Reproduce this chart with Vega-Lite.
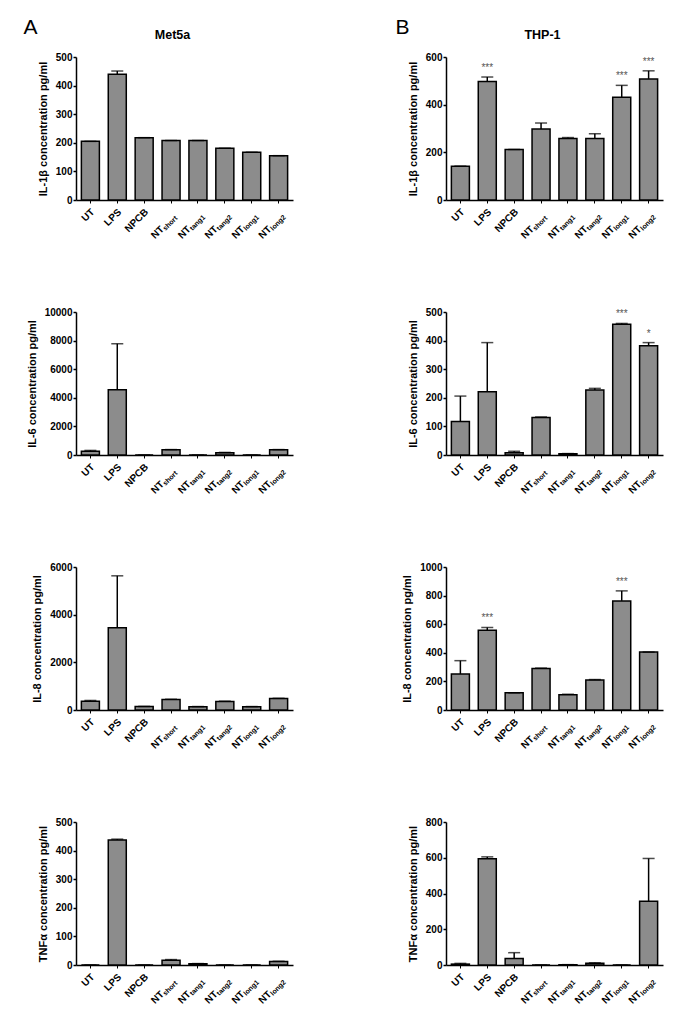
{
"$schema": "https://vega.github.io/schema/vega-lite/v6.json",
"padding": {"left": 23, "top": 17, "right": 5, "bottom": 5},
"background": "white",
"config": {
 "font": "Liberation Sans",
 "view": {"stroke": null},
 "axis": {"grid": false, "labelOverlap": false, "domainColor": "black", "domainWidth": 1.5, "tickColor": "black", "tickWidth": 1.5, "tickSize": 3, "labelFont": "Liberation Sans", "labelFontSize": 10, "labelFontWeight": "bold", "labelColor": "black", "labelPadding": 1, "titleFont": "Liberation Sans", "titleFontSize": 11, "titleFontWeight": "bold", "titleColor": "black", "titlePadding": 7},
 "text": {"font": "Liberation Sans", "color": "black"},
 "title": {"font": "Liberation Sans", "fontSize": 12.5, "fontWeight": "bold", "color": "black"}
},
"datasets": {"d": [
{"panel":"A1","cat":"UT","lab":"UT","sub":"","mean":205,"hi":205,"sig":""},
{"panel":"A1","cat":"LPS","lab":"LPS","sub":"","mean":440,"hi":451,"sig":""},
{"panel":"A1","cat":"NPCB","lab":"NPCB","sub":"","mean":218,"hi":218,"sig":""},
{"panel":"A1","cat":"NTs","lab":"NT","sub":"short","mean":208,"hi":208,"sig":""},
{"panel":"A1","cat":"NTt1","lab":"NT","sub":"tang1","mean":208,"hi":208,"sig":""},
{"panel":"A1","cat":"NTt2","lab":"NT","sub":"tang2","mean":181,"hi":181,"sig":""},
{"panel":"A1","cat":"NTl1","lab":"NT","sub":"long1","mean":167,"hi":167,"sig":""},
{"panel":"A1","cat":"NTl2","lab":"NT","sub":"long2","mean":155,"hi":155,"sig":""},
{"panel":"B1","cat":"UT","lab":"UT","sub":"","mean":142,"hi":142,"sig":""},
{"panel":"B1","cat":"LPS","lab":"LPS","sub":"","mean":497,"hi":516,"sig":"***"},
{"panel":"B1","cat":"NPCB","lab":"NPCB","sub":"","mean":212,"hi":212,"sig":""},
{"panel":"B1","cat":"NTs","lab":"NT","sub":"short","mean":298,"hi":323,"sig":""},
{"panel":"B1","cat":"NTt1","lab":"NT","sub":"tang1","mean":258,"hi":262,"sig":""},
{"panel":"B1","cat":"NTt2","lab":"NT","sub":"tang2","mean":258,"hi":278,"sig":""},
{"panel":"B1","cat":"NTl1","lab":"NT","sub":"long1","mean":431,"hi":481,"sig":"***"},
{"panel":"B1","cat":"NTl2","lab":"NT","sub":"long2","mean":508,"hi":542,"sig":"***"},
{"panel":"A2","cat":"UT","lab":"UT","sub":"","mean":260,"hi":320,"sig":""},
{"panel":"A2","cat":"LPS","lab":"LPS","sub":"","mean":4560,"hi":7780,"sig":""},
{"panel":"A2","cat":"NPCB","lab":"NPCB","sub":"","mean":0,"hi":0,"sig":""},
{"panel":"A2","cat":"NTs","lab":"NT","sub":"short","mean":370,"hi":380,"sig":""},
{"panel":"A2","cat":"NTt1","lab":"NT","sub":"tang1","mean":0,"hi":0,"sig":""},
{"panel":"A2","cat":"NTt2","lab":"NT","sub":"tang2","mean":160,"hi":180,"sig":""},
{"panel":"A2","cat":"NTl1","lab":"NT","sub":"long1","mean":0,"hi":0,"sig":""},
{"panel":"A2","cat":"NTl2","lab":"NT","sub":"long2","mean":360,"hi":380,"sig":""},
{"panel":"B2","cat":"UT","lab":"UT","sub":"","mean":117,"hi":206,"sig":""},
{"panel":"B2","cat":"LPS","lab":"LPS","sub":"","mean":221,"hi":393,"sig":""},
{"panel":"B2","cat":"NPCB","lab":"NPCB","sub":"","mean":8,"hi":13,"sig":""},
{"panel":"B2","cat":"NTs","lab":"NT","sub":"short","mean":131,"hi":133,"sig":""},
{"panel":"B2","cat":"NTt1","lab":"NT","sub":"tang1","mean":4,"hi":5,"sig":""},
{"panel":"B2","cat":"NTt2","lab":"NT","sub":"tang2","mean":227,"hi":233,"sig":""},
{"panel":"B2","cat":"NTl1","lab":"NT","sub":"long1","mean":457,"hi":460,"sig":"***"},
{"panel":"B2","cat":"NTl2","lab":"NT","sub":"long2","mean":382,"hi":393,"sig":"*"},
{"panel":"A3","cat":"UT","lab":"UT","sub":"","mean":370,"hi":400,"sig":""},
{"panel":"A3","cat":"LPS","lab":"LPS","sub":"","mean":3450,"hi":5630,"sig":""},
{"panel":"A3","cat":"NPCB","lab":"NPCB","sub":"","mean":150,"hi":150,"sig":""},
{"panel":"A3","cat":"NTs","lab":"NT","sub":"short","mean":440,"hi":450,"sig":""},
{"panel":"A3","cat":"NTt1","lab":"NT","sub":"tang1","mean":140,"hi":145,"sig":""},
{"panel":"A3","cat":"NTt2","lab":"NT","sub":"tang2","mean":360,"hi":370,"sig":""},
{"panel":"A3","cat":"NTl1","lab":"NT","sub":"long1","mean":140,"hi":145,"sig":""},
{"panel":"A3","cat":"NTl2","lab":"NT","sub":"long2","mean":480,"hi":490,"sig":""},
{"panel":"B3","cat":"UT","lab":"UT","sub":"","mean":252,"hi":345,"sig":""},
{"panel":"B3","cat":"LPS","lab":"LPS","sub":"","mean":557,"hi":577,"sig":"***"},
{"panel":"B3","cat":"NPCB","lab":"NPCB","sub":"","mean":120,"hi":120,"sig":""},
{"panel":"B3","cat":"NTs","lab":"NT","sub":"short","mean":290,"hi":293,"sig":""},
{"panel":"B3","cat":"NTt1","lab":"NT","sub":"tang1","mean":106,"hi":110,"sig":""},
{"panel":"B3","cat":"NTt2","lab":"NT","sub":"tang2","mean":210,"hi":213,"sig":""},
{"panel":"B3","cat":"NTl1","lab":"NT","sub":"long1","mean":763,"hi":833,"sig":"***"},
{"panel":"B3","cat":"NTl2","lab":"NT","sub":"long2","mean":405,"hi":405,"sig":""},
{"panel":"A4","cat":"UT","lab":"UT","sub":"","mean":0,"hi":0,"sig":""},
{"panel":"A4","cat":"LPS","lab":"LPS","sub":"","mean":437,"hi":440,"sig":""},
{"panel":"A4","cat":"NPCB","lab":"NPCB","sub":"","mean":0,"hi":0,"sig":""},
{"panel":"A4","cat":"NTs","lab":"NT","sub":"short","mean":17,"hi":19,"sig":""},
{"panel":"A4","cat":"NTt1","lab":"NT","sub":"tang1","mean":4,"hi":5,"sig":""},
{"panel":"A4","cat":"NTt2","lab":"NT","sub":"tang2","mean":0,"hi":0,"sig":""},
{"panel":"A4","cat":"NTl1","lab":"NT","sub":"long1","mean":0,"hi":0,"sig":""},
{"panel":"A4","cat":"NTl2","lab":"NT","sub":"long2","mean":12,"hi":13,"sig":""},
{"panel":"B4","cat":"UT","lab":"UT","sub":"","mean":5,"hi":9,"sig":""},
{"panel":"B4","cat":"LPS","lab":"LPS","sub":"","mean":595,"hi":605,"sig":""},
{"panel":"B4","cat":"NPCB","lab":"NPCB","sub":"","mean":37,"hi":69,"sig":""},
{"panel":"B4","cat":"NTs","lab":"NT","sub":"short","mean":0,"hi":0,"sig":""},
{"panel":"B4","cat":"NTt1","lab":"NT","sub":"tang1","mean":2,"hi":2,"sig":""},
{"panel":"B4","cat":"NTt2","lab":"NT","sub":"tang2","mean":10,"hi":12,"sig":""},
{"panel":"B4","cat":"NTl1","lab":"NT","sub":"long1","mean":0,"hi":0,"sig":""},
{"panel":"B4","cat":"NTl2","lab":"NT","sub":"long2","mean":356,"hi":596,"sig":""}
]},
"data": {"name": "d"},
"columns": 2,
"bounds": "flush",
"spacing": {"row": 112, "column": 153},
"concat": [
{
 "width": 217, "height": 143,
 "title": {"text": "Met5a", "dx": -12, "offset": 17, "dy": 41},
 "transform": [{"filter": "datum.panel == 'A1'"}],
 "encoding": {"x": {"field": "cat", "type": "nominal", "sort": null, "scale": {"domain": ["UT","LPS","NPCB","NTs","NTt1","NTt2","NTl1","NTl2"], "paddingInner": 0.33, "paddingOuter": 0.2}, "axis": {"labels": false, "title": null, "tickSize": 3, "tickWidth": 1}}},
 "layer": [
  {"mark": {"type": "bar", "fill": "#8c8c8c", "stroke": "black", "strokeWidth": 1.5}, "encoding": {"y": {"field": "mean", "type": "quantitative", "scale": {"domain": [0, 500], "nice": false}, "axis": {"values": [0,100,200,300,400,500], "format": "d", "title": "IL-1β concentration pg/ml"}}}},
  {"mark": {"type": "rule", "color": "black", "strokeWidth": 1.5}, "encoding": {"y": {"field": "mean", "type": "quantitative", "axis": {"values": [0,100,200,300,400,500], "format": "d", "title": "IL-1β concentration pg/ml"}}, "y2": {"field": "hi"}}},
  {"mark": {"type": "tick", "color": "black", "size": 12, "thickness": 1.5}, "encoding": {"y": {"field": "hi", "type": "quantitative", "axis": {"values": [0,100,200,300,400,500], "format": "d", "title": "IL-1β concentration pg/ml"}}}},
  {"transform": [{"filter": "datum.sub == ''"}], "mark": {"type": "text", "angle": 315, "align": "right", "baseline": "middle", "fontSize": 10, "fontWeight": "bold", "dx": -5.7, "dy": 9.2}, "encoding": {"y": {"datum": 0, "type": "quantitative", "axis": {"values": [0,100,200,300,400,500], "format": "d", "title": "IL-1β concentration pg/ml"}}, "text": {"field": "lab"}}},
  {"transform": [{"filter": "datum.sub != ''"}], "mark": {"type": "text", "angle": 315, "align": "right", "baseline": "middle", "fontSize": 10, "fontWeight": "bold", "dx": -25.8, "dy": 13.5}, "encoding": {"y": {"datum": 0, "type": "quantitative", "axis": {"values": [0,100,200,300,400,500], "format": "d", "title": "IL-1β concentration pg/ml"}}, "text": {"field": "lab"}}},
  {"transform": [{"filter": "datum.sub != ''"}], "mark": {"type": "text", "angle": 315, "align": "left", "baseline": "middle", "fontSize": 7, "fontWeight": "bold", "dx": -25.8, "dy": 16}, "encoding": {"y": {"datum": 0, "type": "quantitative", "axis": {"values": [0,100,200,300,400,500], "format": "d", "title": "IL-1β concentration pg/ml"}}, "text": {"field": "sub"}}},
  {"data": {"values": [{"panel": "A1", "t": "A"}]}, "mark": {"type": "text", "fontSize": 21, "align": "left", "baseline": "alphabetic", "dx": -67, "dy": -23}, "encoding": {"x": {"datum": "UT"}, "y": {"datum": 500, "type": "quantitative", "axis": {"values": [0,100,200,300,400,500], "format": "d", "title": "IL-1β concentration pg/ml"}}, "text": {"field": "t"}}}
 ]
},
{
 "width": 217, "height": 143,
 "title": {"text": "THP-1", "dx": -12, "offset": 17, "dy": 41},
 "transform": [{"filter": "datum.panel == 'B1'"}],
 "encoding": {"x": {"field": "cat", "type": "nominal", "sort": null, "scale": {"domain": ["UT","LPS","NPCB","NTs","NTt1","NTt2","NTl1","NTl2"], "paddingInner": 0.33, "paddingOuter": 0.2}, "axis": {"labels": false, "title": null, "tickSize": 3, "tickWidth": 1}}},
 "layer": [
  {"mark": {"type": "bar", "fill": "#8c8c8c", "stroke": "black", "strokeWidth": 1.5}, "encoding": {"y": {"field": "mean", "type": "quantitative", "scale": {"domain": [0, 600], "nice": false}, "axis": {"values": [0,200,400,600], "format": "d", "title": "IL-1β concentration pg/ml"}}}},
  {"mark": {"type": "rule", "color": "black", "strokeWidth": 1.5}, "encoding": {"y": {"field": "mean", "type": "quantitative", "axis": {"values": [0,200,400,600], "format": "d", "title": "IL-1β concentration pg/ml"}}, "y2": {"field": "hi"}}},
  {"mark": {"type": "tick", "color": "black", "size": 12, "thickness": 1.5}, "encoding": {"y": {"field": "hi", "type": "quantitative", "axis": {"values": [0,200,400,600], "format": "d", "title": "IL-1β concentration pg/ml"}}}},
  {"transform": [{"filter": "datum.sig != ''"}], "mark": {"type": "text", "fontSize": 10, "color": "#555555", "baseline": "alphabetic", "dy": -6}, "encoding": {"y": {"field": "hi", "type": "quantitative", "axis": {"values": [0,200,400,600], "format": "d", "title": "IL-1β concentration pg/ml"}}, "text": {"field": "sig"}}},
  {"transform": [{"filter": "datum.sub == ''"}], "mark": {"type": "text", "angle": 315, "align": "right", "baseline": "middle", "fontSize": 10, "fontWeight": "bold", "dx": -5.7, "dy": 9.2}, "encoding": {"y": {"datum": 0, "type": "quantitative", "axis": {"values": [0,200,400,600], "format": "d", "title": "IL-1β concentration pg/ml"}}, "text": {"field": "lab"}}},
  {"transform": [{"filter": "datum.sub != ''"}], "mark": {"type": "text", "angle": 315, "align": "right", "baseline": "middle", "fontSize": 10, "fontWeight": "bold", "dx": -25.8, "dy": 13.5}, "encoding": {"y": {"datum": 0, "type": "quantitative", "axis": {"values": [0,200,400,600], "format": "d", "title": "IL-1β concentration pg/ml"}}, "text": {"field": "lab"}}},
  {"transform": [{"filter": "datum.sub != ''"}], "mark": {"type": "text", "angle": 315, "align": "left", "baseline": "middle", "fontSize": 7, "fontWeight": "bold", "dx": -25.8, "dy": 16}, "encoding": {"y": {"datum": 0, "type": "quantitative", "axis": {"values": [0,200,400,600], "format": "d", "title": "IL-1β concentration pg/ml"}}, "text": {"field": "sub"}}},
  {"data": {"values": [{"panel": "B1", "t": "B"}]}, "mark": {"type": "text", "fontSize": 21, "align": "left", "baseline": "alphabetic", "dx": -65, "dy": -23}, "encoding": {"x": {"datum": "UT"}, "y": {"datum": 600, "type": "quantitative", "axis": {"values": [0,200,400,600], "format": "d", "title": "IL-1β concentration pg/ml"}}, "text": {"field": "t"}}}
 ]
},
{
 "width": 217, "height": 143,
 "transform": [{"filter": "datum.panel == 'A2'"}],
 "encoding": {"x": {"field": "cat", "type": "nominal", "sort": null, "scale": {"domain": ["UT","LPS","NPCB","NTs","NTt1","NTt2","NTl1","NTl2"], "paddingInner": 0.33, "paddingOuter": 0.2}, "axis": {"labels": false, "title": null, "tickSize": 3, "tickWidth": 1}}},
 "layer": [
  {"mark": {"type": "bar", "fill": "#8c8c8c", "stroke": "black", "strokeWidth": 1.5}, "encoding": {"y": {"field": "mean", "type": "quantitative", "scale": {"domain": [0, 10000], "nice": false}, "axis": {"values": [0,2000,4000,6000,8000,10000], "format": "d", "title": "IL-6 concentration pg/ml"}}}},
  {"mark": {"type": "rule", "color": "black", "strokeWidth": 1.5}, "encoding": {"y": {"field": "mean", "type": "quantitative", "axis": {"values": [0,2000,4000,6000,8000,10000], "format": "d", "title": "IL-6 concentration pg/ml"}}, "y2": {"field": "hi"}}},
  {"mark": {"type": "tick", "color": "black", "size": 12, "thickness": 1.5}, "encoding": {"y": {"field": "hi", "type": "quantitative", "axis": {"values": [0,2000,4000,6000,8000,10000], "format": "d", "title": "IL-6 concentration pg/ml"}}}},
  {"transform": [{"filter": "datum.sub == ''"}], "mark": {"type": "text", "angle": 315, "align": "right", "baseline": "middle", "fontSize": 10, "fontWeight": "bold", "dx": -5.7, "dy": 9.2}, "encoding": {"y": {"datum": 0, "type": "quantitative", "axis": {"values": [0,2000,4000,6000,8000,10000], "format": "d", "title": "IL-6 concentration pg/ml"}}, "text": {"field": "lab"}}},
  {"transform": [{"filter": "datum.sub != ''"}], "mark": {"type": "text", "angle": 315, "align": "right", "baseline": "middle", "fontSize": 10, "fontWeight": "bold", "dx": -25.8, "dy": 13.5}, "encoding": {"y": {"datum": 0, "type": "quantitative", "axis": {"values": [0,2000,4000,6000,8000,10000], "format": "d", "title": "IL-6 concentration pg/ml"}}, "text": {"field": "lab"}}},
  {"transform": [{"filter": "datum.sub != ''"}], "mark": {"type": "text", "angle": 315, "align": "left", "baseline": "middle", "fontSize": 7, "fontWeight": "bold", "dx": -25.8, "dy": 16}, "encoding": {"y": {"datum": 0, "type": "quantitative", "axis": {"values": [0,2000,4000,6000,8000,10000], "format": "d", "title": "IL-6 concentration pg/ml"}}, "text": {"field": "sub"}}}
 ]
},
{
 "width": 217, "height": 143,
 "transform": [{"filter": "datum.panel == 'B2'"}],
 "encoding": {"x": {"field": "cat", "type": "nominal", "sort": null, "scale": {"domain": ["UT","LPS","NPCB","NTs","NTt1","NTt2","NTl1","NTl2"], "paddingInner": 0.33, "paddingOuter": 0.2}, "axis": {"labels": false, "title": null, "tickSize": 3, "tickWidth": 1}}},
 "layer": [
  {"mark": {"type": "bar", "fill": "#8c8c8c", "stroke": "black", "strokeWidth": 1.5}, "encoding": {"y": {"field": "mean", "type": "quantitative", "scale": {"domain": [0, 500], "nice": false}, "axis": {"values": [0,100,200,300,400,500], "format": "d", "title": "IL-6 concentration pg/ml"}}}},
  {"mark": {"type": "rule", "color": "black", "strokeWidth": 1.5}, "encoding": {"y": {"field": "mean", "type": "quantitative", "axis": {"values": [0,100,200,300,400,500], "format": "d", "title": "IL-6 concentration pg/ml"}}, "y2": {"field": "hi"}}},
  {"mark": {"type": "tick", "color": "black", "size": 12, "thickness": 1.5}, "encoding": {"y": {"field": "hi", "type": "quantitative", "axis": {"values": [0,100,200,300,400,500], "format": "d", "title": "IL-6 concentration pg/ml"}}}},
  {"transform": [{"filter": "datum.sig != ''"}], "mark": {"type": "text", "fontSize": 10, "color": "#555555", "baseline": "alphabetic", "dy": -6}, "encoding": {"y": {"field": "hi", "type": "quantitative", "axis": {"values": [0,100,200,300,400,500], "format": "d", "title": "IL-6 concentration pg/ml"}}, "text": {"field": "sig"}}},
  {"transform": [{"filter": "datum.sub == ''"}], "mark": {"type": "text", "angle": 315, "align": "right", "baseline": "middle", "fontSize": 10, "fontWeight": "bold", "dx": -5.7, "dy": 9.2}, "encoding": {"y": {"datum": 0, "type": "quantitative", "axis": {"values": [0,100,200,300,400,500], "format": "d", "title": "IL-6 concentration pg/ml"}}, "text": {"field": "lab"}}},
  {"transform": [{"filter": "datum.sub != ''"}], "mark": {"type": "text", "angle": 315, "align": "right", "baseline": "middle", "fontSize": 10, "fontWeight": "bold", "dx": -25.8, "dy": 13.5}, "encoding": {"y": {"datum": 0, "type": "quantitative", "axis": {"values": [0,100,200,300,400,500], "format": "d", "title": "IL-6 concentration pg/ml"}}, "text": {"field": "lab"}}},
  {"transform": [{"filter": "datum.sub != ''"}], "mark": {"type": "text", "angle": 315, "align": "left", "baseline": "middle", "fontSize": 7, "fontWeight": "bold", "dx": -25.8, "dy": 16}, "encoding": {"y": {"datum": 0, "type": "quantitative", "axis": {"values": [0,100,200,300,400,500], "format": "d", "title": "IL-6 concentration pg/ml"}}, "text": {"field": "sub"}}}
 ]
},
{
 "width": 217, "height": 143,
 "transform": [{"filter": "datum.panel == 'A3'"}],
 "encoding": {"x": {"field": "cat", "type": "nominal", "sort": null, "scale": {"domain": ["UT","LPS","NPCB","NTs","NTt1","NTt2","NTl1","NTl2"], "paddingInner": 0.33, "paddingOuter": 0.2}, "axis": {"labels": false, "title": null, "tickSize": 3, "tickWidth": 1}}},
 "layer": [
  {"mark": {"type": "bar", "fill": "#8c8c8c", "stroke": "black", "strokeWidth": 1.5}, "encoding": {"y": {"field": "mean", "type": "quantitative", "scale": {"domain": [0, 6000], "nice": false}, "axis": {"values": [0,2000,4000,6000], "format": "d", "title": "IL-8 concentration pg/ml"}}}},
  {"mark": {"type": "rule", "color": "black", "strokeWidth": 1.5}, "encoding": {"y": {"field": "mean", "type": "quantitative", "axis": {"values": [0,2000,4000,6000], "format": "d", "title": "IL-8 concentration pg/ml"}}, "y2": {"field": "hi"}}},
  {"mark": {"type": "tick", "color": "black", "size": 12, "thickness": 1.5}, "encoding": {"y": {"field": "hi", "type": "quantitative", "axis": {"values": [0,2000,4000,6000], "format": "d", "title": "IL-8 concentration pg/ml"}}}},
  {"transform": [{"filter": "datum.sub == ''"}], "mark": {"type": "text", "angle": 315, "align": "right", "baseline": "middle", "fontSize": 10, "fontWeight": "bold", "dx": -5.7, "dy": 9.2}, "encoding": {"y": {"datum": 0, "type": "quantitative", "axis": {"values": [0,2000,4000,6000], "format": "d", "title": "IL-8 concentration pg/ml"}}, "text": {"field": "lab"}}},
  {"transform": [{"filter": "datum.sub != ''"}], "mark": {"type": "text", "angle": 315, "align": "right", "baseline": "middle", "fontSize": 10, "fontWeight": "bold", "dx": -25.8, "dy": 13.5}, "encoding": {"y": {"datum": 0, "type": "quantitative", "axis": {"values": [0,2000,4000,6000], "format": "d", "title": "IL-8 concentration pg/ml"}}, "text": {"field": "lab"}}},
  {"transform": [{"filter": "datum.sub != ''"}], "mark": {"type": "text", "angle": 315, "align": "left", "baseline": "middle", "fontSize": 7, "fontWeight": "bold", "dx": -25.8, "dy": 16}, "encoding": {"y": {"datum": 0, "type": "quantitative", "axis": {"values": [0,2000,4000,6000], "format": "d", "title": "IL-8 concentration pg/ml"}}, "text": {"field": "sub"}}}
 ]
},
{
 "width": 217, "height": 143,
 "transform": [{"filter": "datum.panel == 'B3'"}],
 "encoding": {"x": {"field": "cat", "type": "nominal", "sort": null, "scale": {"domain": ["UT","LPS","NPCB","NTs","NTt1","NTt2","NTl1","NTl2"], "paddingInner": 0.33, "paddingOuter": 0.2}, "axis": {"labels": false, "title": null, "tickSize": 3, "tickWidth": 1}}},
 "layer": [
  {"mark": {"type": "bar", "fill": "#8c8c8c", "stroke": "black", "strokeWidth": 1.5}, "encoding": {"y": {"field": "mean", "type": "quantitative", "scale": {"domain": [0, 1000], "nice": false}, "axis": {"values": [0,200,400,600,800,1000], "format": "d", "title": "IL-8 concentration pg/ml"}}}},
  {"mark": {"type": "rule", "color": "black", "strokeWidth": 1.5}, "encoding": {"y": {"field": "mean", "type": "quantitative", "axis": {"values": [0,200,400,600,800,1000], "format": "d", "title": "IL-8 concentration pg/ml"}}, "y2": {"field": "hi"}}},
  {"mark": {"type": "tick", "color": "black", "size": 12, "thickness": 1.5}, "encoding": {"y": {"field": "hi", "type": "quantitative", "axis": {"values": [0,200,400,600,800,1000], "format": "d", "title": "IL-8 concentration pg/ml"}}}},
  {"transform": [{"filter": "datum.sig != ''"}], "mark": {"type": "text", "fontSize": 10, "color": "#555555", "baseline": "alphabetic", "dy": -6}, "encoding": {"y": {"field": "hi", "type": "quantitative", "axis": {"values": [0,200,400,600,800,1000], "format": "d", "title": "IL-8 concentration pg/ml"}}, "text": {"field": "sig"}}},
  {"transform": [{"filter": "datum.sub == ''"}], "mark": {"type": "text", "angle": 315, "align": "right", "baseline": "middle", "fontSize": 10, "fontWeight": "bold", "dx": -5.7, "dy": 9.2}, "encoding": {"y": {"datum": 0, "type": "quantitative", "axis": {"values": [0,200,400,600,800,1000], "format": "d", "title": "IL-8 concentration pg/ml"}}, "text": {"field": "lab"}}},
  {"transform": [{"filter": "datum.sub != ''"}], "mark": {"type": "text", "angle": 315, "align": "right", "baseline": "middle", "fontSize": 10, "fontWeight": "bold", "dx": -25.8, "dy": 13.5}, "encoding": {"y": {"datum": 0, "type": "quantitative", "axis": {"values": [0,200,400,600,800,1000], "format": "d", "title": "IL-8 concentration pg/ml"}}, "text": {"field": "lab"}}},
  {"transform": [{"filter": "datum.sub != ''"}], "mark": {"type": "text", "angle": 315, "align": "left", "baseline": "middle", "fontSize": 7, "fontWeight": "bold", "dx": -25.8, "dy": 16}, "encoding": {"y": {"datum": 0, "type": "quantitative", "axis": {"values": [0,200,400,600,800,1000], "format": "d", "title": "IL-8 concentration pg/ml"}}, "text": {"field": "sub"}}}
 ]
},
{
 "width": 217, "height": 143,
 "transform": [{"filter": "datum.panel == 'A4'"}],
 "encoding": {"x": {"field": "cat", "type": "nominal", "sort": null, "scale": {"domain": ["UT","LPS","NPCB","NTs","NTt1","NTt2","NTl1","NTl2"], "paddingInner": 0.33, "paddingOuter": 0.2}, "axis": {"labels": false, "title": null, "tickSize": 3, "tickWidth": 1}}},
 "layer": [
  {"mark": {"type": "bar", "fill": "#8c8c8c", "stroke": "black", "strokeWidth": 1.5}, "encoding": {"y": {"field": "mean", "type": "quantitative", "scale": {"domain": [0, 500], "nice": false}, "axis": {"values": [0,100,200,300,400,500], "format": "d", "title": "TNFα concentration pg/ml"}}}},
  {"mark": {"type": "rule", "color": "black", "strokeWidth": 1.5}, "encoding": {"y": {"field": "mean", "type": "quantitative", "axis": {"values": [0,100,200,300,400,500], "format": "d", "title": "TNFα concentration pg/ml"}}, "y2": {"field": "hi"}}},
  {"mark": {"type": "tick", "color": "black", "size": 12, "thickness": 1.5}, "encoding": {"y": {"field": "hi", "type": "quantitative", "axis": {"values": [0,100,200,300,400,500], "format": "d", "title": "TNFα concentration pg/ml"}}}},
  {"transform": [{"filter": "datum.sub == ''"}], "mark": {"type": "text", "angle": 315, "align": "right", "baseline": "middle", "fontSize": 10, "fontWeight": "bold", "dx": -5.7, "dy": 9.2}, "encoding": {"y": {"datum": 0, "type": "quantitative", "axis": {"values": [0,100,200,300,400,500], "format": "d", "title": "TNFα concentration pg/ml"}}, "text": {"field": "lab"}}},
  {"transform": [{"filter": "datum.sub != ''"}], "mark": {"type": "text", "angle": 315, "align": "right", "baseline": "middle", "fontSize": 10, "fontWeight": "bold", "dx": -25.8, "dy": 13.5}, "encoding": {"y": {"datum": 0, "type": "quantitative", "axis": {"values": [0,100,200,300,400,500], "format": "d", "title": "TNFα concentration pg/ml"}}, "text": {"field": "lab"}}},
  {"transform": [{"filter": "datum.sub != ''"}], "mark": {"type": "text", "angle": 315, "align": "left", "baseline": "middle", "fontSize": 7, "fontWeight": "bold", "dx": -25.8, "dy": 16}, "encoding": {"y": {"datum": 0, "type": "quantitative", "axis": {"values": [0,100,200,300,400,500], "format": "d", "title": "TNFα concentration pg/ml"}}, "text": {"field": "sub"}}}
 ]
},
{
 "width": 217, "height": 143,
 "transform": [{"filter": "datum.panel == 'B4'"}],
 "encoding": {"x": {"field": "cat", "type": "nominal", "sort": null, "scale": {"domain": ["UT","LPS","NPCB","NTs","NTt1","NTt2","NTl1","NTl2"], "paddingInner": 0.33, "paddingOuter": 0.2}, "axis": {"labels": false, "title": null, "tickSize": 3, "tickWidth": 1}}},
 "layer": [
  {"mark": {"type": "bar", "fill": "#8c8c8c", "stroke": "black", "strokeWidth": 1.5}, "encoding": {"y": {"field": "mean", "type": "quantitative", "scale": {"domain": [0, 800], "nice": false}, "axis": {"values": [0,200,400,600,800], "format": "d", "title": "TNFα concentration pg/ml"}}}},
  {"mark": {"type": "rule", "color": "black", "strokeWidth": 1.5}, "encoding": {"y": {"field": "mean", "type": "quantitative", "axis": {"values": [0,200,400,600,800], "format": "d", "title": "TNFα concentration pg/ml"}}, "y2": {"field": "hi"}}},
  {"mark": {"type": "tick", "color": "black", "size": 12, "thickness": 1.5}, "encoding": {"y": {"field": "hi", "type": "quantitative", "axis": {"values": [0,200,400,600,800], "format": "d", "title": "TNFα concentration pg/ml"}}}},
  {"transform": [{"filter": "datum.sub == ''"}], "mark": {"type": "text", "angle": 315, "align": "right", "baseline": "middle", "fontSize": 10, "fontWeight": "bold", "dx": -5.7, "dy": 9.2}, "encoding": {"y": {"datum": 0, "type": "quantitative", "axis": {"values": [0,200,400,600,800], "format": "d", "title": "TNFα concentration pg/ml"}}, "text": {"field": "lab"}}},
  {"transform": [{"filter": "datum.sub != ''"}], "mark": {"type": "text", "angle": 315, "align": "right", "baseline": "middle", "fontSize": 10, "fontWeight": "bold", "dx": -25.8, "dy": 13.5}, "encoding": {"y": {"datum": 0, "type": "quantitative", "axis": {"values": [0,200,400,600,800], "format": "d", "title": "TNFα concentration pg/ml"}}, "text": {"field": "lab"}}},
  {"transform": [{"filter": "datum.sub != ''"}], "mark": {"type": "text", "angle": 315, "align": "left", "baseline": "middle", "fontSize": 7, "fontWeight": "bold", "dx": -25.8, "dy": 16}, "encoding": {"y": {"datum": 0, "type": "quantitative", "axis": {"values": [0,200,400,600,800], "format": "d", "title": "TNFα concentration pg/ml"}}, "text": {"field": "sub"}}}
 ]
}
]
}
